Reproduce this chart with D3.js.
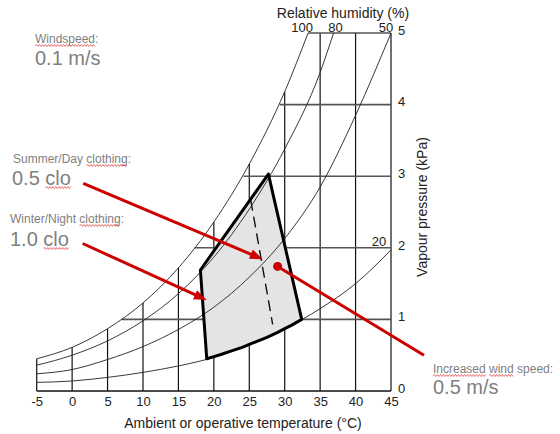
<!DOCTYPE html>
<meta charset="utf-8">
<title>Comfort zone on psychrometric chart</title>
<script src="https://d3js.org/d3.v7.min.js"></script>
<style>
body { margin: 0; background: #fff; }
svg { display: block; font-family: "Liberation Sans", Arial, sans-serif; }
.grid-v { stroke: #111; stroke-width: 1.2; }
.grid-h { stroke: #555; stroke-width: 1.6; }
.rh { fill: none; stroke: #222; stroke-width: 0.9; }
.note { fill: #7f7f7f; }
.red { stroke: #cc0000; stroke-width: 3; fill: none; }
</style>
<svg width="560" height="434"></svg>
<script>

// axes
var tempTicks = [-5, 0, 5, 10, 15, 20, 25, 30, 35, 40, 45],
    vpTicks = [0, 1, 2, 3, 4, 5];

// relative humidity curves, [temperature C, vapour pressure kPa]
var rh100 = [[-5,0.45],[0,0.61],[5,0.87],[10,1.23],[15,1.72],[20,2.36],[25,3.17],[30,4.18],[33.3,5.0]],
    rh80  = [[-5,0.36],[0,0.50],[5,0.70],[10,0.98],[15,1.36],[20,1.87],[25,2.54],[30,3.38],[35,4.45],[36.9,5.0]],
    rh50  = [[-5,0.24],[0,0.30],[5,0.44],[10,0.62],[15,0.86],[20,1.17],[25,1.59],[30,2.13],[35,2.85],[40,3.85],[45,5.0]],
    rh20  = [[-5,0.12],[0,0.14],[5,0.19],[10,0.26],[15,0.35],[20,0.47],[25,0.65],[30,0.87],[35,1.15],[40,1.50],[45,1.97]];
var rhLabels = ["100", "80", "50", "20"];

// temperature where each pressure gridline meets saturation (1..5 kPa)
var hStart = [7.0, 17.3, 24.2, 29.3, 33.3];

// comfort zone
var zone = [[27.7,3.03],[18.1,1.69],[19.0,0.45],[20,0.48],[21,0.51],[22.5,0.56],[24,0.61],[25,0.65],
            [26,0.69],[27.5,0.75],[29,0.82],[30,0.87],[31,0.92],[32.4,1.0]];
var dashed = [[25.2,2.67],[28.3,0.93]];

// annotation arrows
var arrowSummer = [[1.57,2.90],[26.9,1.84]],
    arrowWinter = [[1.49,2.06],[19.0,1.27]],
    windLine = [[29.0,1.74],[49.65,0.50]];

var svg = d3.select("svg");

var x = d3.scaleLinear().domain([-5, 45]).range([36.7, 391]),
    y = d3.scaleLinear().domain([0, 5]).range([391, 33]);

var line = d3.line().x(function(d) { return x(d[0]); }).y(function(d) { return y(d[1]); });
var smooth = d3.line().x(function(d) { return x(d[0]); }).y(function(d) { return y(d[1]); })
    .curve(d3.curveMonotoneX);

function satAt(t) {
  for (var i = 0; i < rh100.length; i++) if (rh100[i][0] === t) return rh100[i][1];
  return 5;
}

// vertical gridlines up to saturation curve
svg.append("g").selectAll("line")
  .data(tempTicks)
  .enter().append("line")
    .attr("class", "grid-v")
    .attr("x1", function(d) { return x(d); })
    .attr("x2", function(d) { return x(d); })
    .attr("y1", y(0))
    .attr("y2", function(d) { return y(Math.min(5, satAt(d))); });

// horizontal gridlines from saturation curve to the right
svg.append("g").selectAll("line")
  .data(vpTicks.slice(1))
  .enter().append("line")
    .attr("class", "grid-h")
    .attr("x1", function(d, i) { return x(hStart[i]); })
    .attr("x2", x(45))
    .attr("y1", function(d) { return y(d); })
    .attr("y2", function(d) { return y(d); });

svg.append("line")
    .attr("x1", x(-5)).attr("x2", x(45))
    .attr("y1", y(0)).attr("y2", y(0))
    .attr("stroke", "#111").attr("stroke-width", 1.5);

// comfort zone
svg.append("path")
    .datum(zone)
    .attr("d", function(d) { return line(d) + "Z"; })
    .attr("fill", "#e4e4e4")
    .attr("stroke", "none");

var curves = [rh100, rh80, rh50, rh20];
svg.append("g").selectAll("path")
  .data(curves)
  .enter().append("path")
    .attr("class", "rh")
    .attr("d", smooth);

svg.append("path")
    .datum(zone)
    .attr("d", function(d) { return line(d) + "Z"; })
    .attr("fill", "none")
    .attr("stroke", "#000")
    .attr("stroke-width", 3)
    .attr("stroke-linejoin", "round");

svg.append("path")
    .datum(dashed)
    .attr("d", line)
    .attr("stroke", "#111")
    .attr("stroke-width", 1.4)
    .attr("stroke-dasharray", "11,6");

// RH labels at curve ends
var labOff = [[-6, -1], [2, -1], [-5, -1], [-12, -4]];
svg.append("g").selectAll("text")
  .data(curves)
  .enter().append("text")
    .attr("x", function(d, i) { return x(d[d.length - 1][0]) + labOff[i][0]; })
    .attr("y", function(d, i) { return y(d[d.length - 1][1]) + labOff[i][1]; })
    .attr("text-anchor", "middle")
    .attr("font-size", 13)
    .attr("fill", "#222")
    .text(function(d, i) { return rhLabels[i]; });

svg.append("text")
    .attr("x", 343).attr("y", 18)
    .attr("text-anchor", "middle")
    .attr("font-size", 14).attr("fill", "#222")
    .text("Relative humidity (%)");

// axes labels
svg.append("g")
    .attr("transform", "translate(0," + (y(0) + 3) + ")")
    .call(d3.axisBottom(x).tickValues(tempTicks).tickSize(0).tickFormat(function(d) { return String(d); }))
    .call(function(g) { g.select(".domain").remove(); })
    .selectAll("text")
      .attr("font-family", "Liberation Sans, Arial, sans-serif")
      .attr("font-size", 13).attr("fill", "#222");

svg.append("g")
    .attr("transform", "translate(" + (x(45) + 7) + ",0)")
    .call(d3.axisRight(y).tickValues(vpTicks).tickSize(0).tickPadding(0).tickFormat(function(d) { return String(d); }))
    .call(function(g) { g.select(".domain").remove(); })
    .selectAll("text")
      .attr("font-family", "Liberation Sans, Arial, sans-serif")
      .attr("font-size", 13).attr("fill", "#222")
      .attr("dy", "0.1em");

svg.append("text")
    .attr("x", 243).attr("y", 428)
    .attr("text-anchor", "middle")
    .attr("font-size", 14).attr("fill", "#222")
    .text("Ambient or operative temperature (\u00b0C)");

svg.append("text")
    .attr("transform", "translate(427,207) rotate(-90)")
    .attr("text-anchor", "middle")
    .attr("font-size", 14).attr("fill", "#222")
    .text("Vapour pressure (kPa)");

// red annotations
svg.append("defs").append("marker")
    .attr("id", "head")
    .attr("markerUnits", "userSpaceOnUse")
    .attr("viewBox", "0 0 13 10")
    .attr("refX", 6).attr("refY", 5)
    .attr("markerWidth", 13).attr("markerHeight", 10)
    .attr("orient", "auto")
  .append("path")
    .attr("d", "M0,0L13,5L0,10Z")
    .attr("fill", "#cc0000");

function arrow(pts) {
  var x1 = x(pts[0][0]), y1 = y(pts[0][1]), x2 = x(pts[1][0]), y2 = y(pts[1][1]);
  var len = Math.hypot(x2 - x1, y2 - y1), k = (len - 7) / len;
  svg.append("line")
      .attr("class", "red")
      .attr("x1", x1).attr("y1", y1)
      .attr("x2", x1 + (x2 - x1) * k).attr("y2", y1 + (y2 - y1) * k)
      .attr("marker-end", "url(#head)");
}
arrow(arrowSummer);
arrow(arrowWinter);

svg.append("path").datum(windLine).attr("class", "red").attr("d", line);
svg.append("circle")
    .attr("cx", x(windLine[0][0])).attr("cy", y(windLine[0][1]))
    .attr("r", 4.5).attr("fill", "#cc0000");

// notes
function note(tx, ty, txt, size) {
  return svg.append("text").attr("class", "note")
      .attr("x", tx).attr("y", ty)
      .attr("font-size", size).text(txt);
}
function squiggle(t, a, b) {
  var n = t.node(),
      x0 = n.getStartPositionOfChar(a).x,
      x1 = n.getEndPositionOfChar(b - 1).x,
      yb = n.getStartPositionOfChar(a).y + 2.5,
      p = "M" + x0 + "," + yb, up = true;
  for (var xx = x0 + 1.5; xx <= x1; xx += 1.5) {
    p += "L" + xx + "," + (yb + (up ? -1 : 1));
    up = !up;
  }
  svg.append("path").attr("d", p).attr("fill", "none")
      .attr("stroke", "#e03030").attr("stroke-width", 0.7);
}

var t;
t = note(35, 43, "Windspeed:", 12); squiggle(t, 0, 9);
note(35, 65, "0.1 m/s", 20);
t = note(13, 163, "Summer/Day clothing:", 12); squiggle(t, 11, 19);
t = note(12, 185, "0.5 clo", 20); squiggle(t, 4, 7);
t = note(10, 223, "Winter/Night clothing:", 12); squiggle(t, 13, 21);
t = note(10, 246, "1.0 clo", 20); squiggle(t, 4, 7);
t = note(433, 373, "Increased wind speed:", 12); squiggle(t, 0, 9); squiggle(t, 10, 14);
note(433, 394, "0.5 m/s", 20);

</script>
</html>
